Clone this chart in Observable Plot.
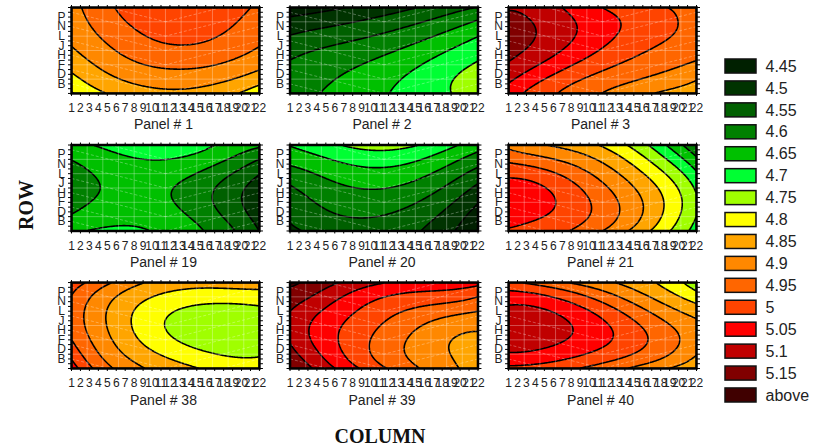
<!DOCTYPE html>
<html>
<head>
<meta charset="utf-8">
<script src="https://cdn.jsdelivr.net/npm/d3@7"></script>
<script src="https://cdn.jsdelivr.net/npm/@observablehq/plot@0.6"></script>
<style>
html,body{margin:0;padding:0;background:#fff;}
#wrap{position:relative;width:825px;height:445px;overflow:hidden;font-family:"Liberation Sans",sans-serif;}
#wrap svg{position:absolute;}
.axt{position:absolute;font-family:"Liberation Serif",serif;font-weight:bold;font-size:20px;color:#111;white-space:nowrap;}
</style>
</head>
<body>
<div id="wrap"></div>
<script>
// Levels and colours of the legend
const thresholds = [4.45,4.5,4.55,4.6,4.65,4.7,4.75,4.8,4.85,4.9,4.95,5,5.05,5.1,5.15];
const legendLabels = ["4.45","4.5","4.55","4.6","4.65","4.7","4.75","4.8","4.85","4.9","4.95","5","5.05","5.1","5.15","above"];
const colors = ["#002000","#003300","#006000","#008000","#00c000","#00ff33","#a0ff00","#ffff00","#ffa500","#ff8800","#ff6600","#ff4400","#ff0000","#c00000","#800000","#400000"];
// Axes
const columns = d3.range(1,23);
const rowLetters = {2:"B",4:"D",6:"F",8:"H",10:"J",12:"L",14:"N",16:"P"};
const rowTicks = [2,4,6,8,10,12,14,16];
const rowMinor = d3.range(0,19);
// Sample positions of the value tables
const sampleX = [1,4,7,10,13,16,19,22];
const sampleY = [18,15,12,9,6,3,0];
// Panel values: one line per row from top to bottom, one number per sampleX
const panel1 = [
[4.885,4.92,4.97,4.985,4.99,4.985,4.97,4.94],
[4.875,4.91,4.955,4.97,4.975,4.97,4.958,4.93],
[4.862,4.895,4.935,4.955,4.96,4.955,4.94,4.91],
[4.845,4.88,4.91,4.93,4.945,4.935,4.92,4.895],
[4.815,4.86,4.88,4.905,4.91,4.905,4.885,4.865],
[4.785,4.825,4.855,4.87,4.875,4.87,4.85,4.82],
[4.745,4.79,4.82,4.835,4.84,4.835,4.805,4.765]];
const panel2 = [
[4.42,4.43,4.45,4.47,4.48,4.5,4.535,4.55],
[4.465,4.475,4.495,4.505,4.53,4.55,4.58,4.605],
[4.505,4.52,4.535,4.557,4.565,4.59,4.615,4.65],
[4.53,4.55,4.565,4.582,4.6,4.62,4.66,4.68],
[4.56,4.575,4.585,4.61,4.625,4.655,4.68,4.705],
[4.575,4.59,4.605,4.63,4.64,4.675,4.695,4.725],
[4.585,4.595,4.62,4.64,4.645,4.685,4.695,4.74]];
const panel3 = [
[5.095,5.085,5.045,5.02,4.985,4.965,4.95,4.92],
[5.115,5.095,5.065,5.035,5.002,4.975,4.96,4.93],
[5.125,5.098,5.07,5.035,5.002,4.97,4.957,4.93],
[5.115,5.085,5.05,5.012,4.98,4.955,4.935,4.915],
[5.095,5.055,5.012,4.98,4.948,4.925,4.91,4.895],
[5.06,5.015,4.975,4.945,4.92,4.9,4.88,4.85],
[5.025,4.98,4.945,4.91,4.89,4.852,4.84,4.82]];
const panel19 = [
[4.635,4.655,4.67,4.685,4.675,4.655,4.635,4.61],
[4.6,4.625,4.64,4.65,4.645,4.625,4.595,4.55],
[4.585,4.602,4.625,4.63,4.612,4.59,4.548,4.5],
[4.575,4.595,4.615,4.615,4.59,4.565,4.525,4.475],
[4.585,4.602,4.62,4.615,4.59,4.56,4.52,4.47],
[4.605,4.625,4.64,4.63,4.612,4.58,4.53,4.48],
[4.64,4.655,4.66,4.648,4.625,4.602,4.552,4.5]];
const panel20 = [
[4.652,4.675,4.702,4.72,4.715,4.69,4.665,4.62],
[4.62,4.64,4.66,4.672,4.67,4.645,4.615,4.575],
[4.575,4.6,4.625,4.632,4.63,4.61,4.57,4.53],
[4.545,4.575,4.595,4.6,4.597,4.575,4.535,4.49],
[4.525,4.552,4.57,4.575,4.567,4.54,4.505,4.45],
[4.507,4.535,4.548,4.552,4.538,4.52,4.475,4.425],
[4.485,4.515,4.53,4.53,4.52,4.498,4.455,4.4]];
const panel21 = [
[4.885,4.865,4.83,4.815,4.77,4.72,4.635,4.56],
[4.94,4.915,4.895,4.86,4.815,4.76,4.69,4.61],
[4.985,4.975,4.945,4.9,4.86,4.805,4.742,4.655],
[5.02,5.015,4.975,4.93,4.885,4.835,4.765,4.695],
[5.03,5.025,4.985,4.96,4.905,4.855,4.78,4.705],
[5.015,5.012,4.975,4.952,4.9,4.852,4.775,4.7],
[4.995,4.985,4.955,4.925,4.87,4.825,4.745,4.68]];
const panel38 = [
[4.975,4.93,4.875,4.84,4.825,4.82,4.82,4.825],
[4.945,4.885,4.83,4.8,4.78,4.77,4.77,4.775],
[4.935,4.87,4.815,4.78,4.745,4.735,4.735,4.74],
[4.93,4.865,4.81,4.77,4.73,4.715,4.71,4.715],
[4.95,4.885,4.82,4.78,4.748,4.73,4.72,4.725],
[4.985,4.9,4.85,4.81,4.78,4.752,4.745,4.742],
[5.03,4.93,4.885,4.84,4.815,4.795,4.785,4.78]];
const panel39 = [
[5.16,5.135,5.09,5.06,5.05,5.03,5.02,5.02],
[5.125,5.1,5.04,5.01,4.995,4.985,4.97,4.95],
[5.1,5.055,5.015,4.985,4.955,4.935,4.91,4.9],
[5.09,5.04,4.997,4.965,4.93,4.895,4.875,4.865],
[5.095,5.04,4.985,4.952,4.91,4.875,4.858,4.83],
[5.12,5.055,5,4.957,4.912,4.87,4.852,4.82],
[5.15,5.09,5.03,4.985,4.93,4.89,4.865,4.825]];
const panel40 = [
[4.96,4.94,4.9,4.875,4.848,4.825,4.77,4.72],
[5.025,5.01,4.998,4.952,4.9,4.865,4.82,4.775],
[5.065,5.06,5.03,5.002,4.955,4.905,4.865,4.825],
[5.08,5.08,5.06,5.03,4.99,4.95,4.9,4.865],
[5.075,5.072,5.058,5.022,4.997,4.963,4.912,4.875],
[5.045,5.04,5.015,4.995,4.97,4.935,4.9,4.85],
[4.985,4.985,4.955,4.945,4.91,4.885,4.845,4.815]];
const panels = [
 {name:"Panel # 1", col:0,row:0,values:panel1},
 {name:"Panel # 2", col:1,row:0,values:panel2},
 {name:"Panel # 3", col:2,row:0,values:panel3},
 {name:"Panel # 19",col:0,row:1,values:panel19},
 {name:"Panel # 20",col:1,row:1,values:panel20},
 {name:"Panel # 21",col:2,row:1,values:panel21},
 {name:"Panel # 38",col:0,row:2,values:panel38},
 {name:"Panel # 39",col:1,row:2,values:panel39},
 {name:"Panel # 40",col:2,row:2,values:panel40}
];
// Wireframe of the surface
const wireX = d3.range(1,22.01,1.75);
const wireY = d3.range(0,18.01,3);
const wireCentre = 11.5;
const wireRise = 5;
const wireDiag = d3.range(-6,24,3).flatMap(y => [
  {x1:1,x2:wireCentre,y1:y+wireRise,y2:y},
  {x1:22,x2:wireCentre,y1:y+wireRise,y2:y}
]);

const points = panels.flatMap(p => p.values.flatMap((line,i) =>
  line.map((z,j) => ({x:sampleX[j],y:sampleY[i],z,col:p.col,row:p.row}))));

// Smooth surface through the table: a least-squares polynomial in x and y,
// handed to the contour mark as its spatial interpolation method.
const degX = 4, degY = 4;
function smoothSurface(index, w, h, X, Y, V) {
  const basis = (u, v) => {
    const out = [];
    for (let a = 0; a <= degX; ++a) for (let b = 0; b <= degY; ++b) out.push(Math.pow(u, a) * Math.pow(v, b));
    return out;
  };
  const n = (degX + 1) * (degY + 1);
  const A = d3.range(n).map(() => new Array(n + 1).fill(0));
  for (const i of index) {
    const f = basis(2 * X[i] / w - 1, 2 * Y[i] / h - 1);
    for (let r = 0; r < n; ++r) {
      for (let c = 0; c < n; ++c) A[r][c] += f[r] * f[c];
      A[r][n] += f[r] * V[i];
    }
  }
  for (let r = 0; r < n; ++r) {
    let p = r;
    for (let q = r + 1; q < n; ++q) if (Math.abs(A[q][r]) > Math.abs(A[p][r])) p = q;
    [A[r], A[p]] = [A[p], A[r]];
    for (let q = 0; q < n; ++q) {
      if (q === r) continue;
      const k = A[q][r] / A[r][r];
      for (let c = r; c <= n; ++c) A[q][c] -= k * A[r][c];
    }
  }
  const coef = A.map((line, r) => line[n] / line[r]);
  const out = new Float64Array(w * h);
  for (let j = 0; j < h; ++j) for (let i = 0; i < w; ++i) {
    const f = basis(2 * (i + 0.5) / w - 1, 2 * (j + 0.5) / h - 1);
    let s = 0;
    for (let k = 0; k < n; ++k) s += coef[k] * f[k];
    out[j * w + i] = s;
  }
  return out;
}

const contourLevels = [3.9, ...thresholds];

const chart = Plot.plot({
  width:825,height:445,
  marginLeft:71,marginRight:129,marginTop:7,marginBottom:77,
  style:{background:"transparent",fontFamily:"'Liberation Sans',sans-serif"},
  fx:{domain:[0,1,2],axis:null,paddingInner:0.14,paddingOuter:0,round:false},
  fy:{domain:[0,1,2],axis:null,paddingInner:0.375,paddingOuter:0,round:false},
  x:{domain:[1,22],label:null,axis:null},
  y:{domain:[0,18],label:null,axis:null},
  color:{type:"threshold",domain:thresholds,range:colors},
  marks:[
    Plot.contour(points,{x:"x",y:"y",fill:"z",fx:"col",fy:"row",interpolate:smoothSurface,
      thresholds:contourLevels,pixelSize:1,smooth:true,stroke:"#000",strokeWidth:1.6,clip:true}),
    Plot.ruleX(wireX,{stroke:"#fff",strokeOpacity:0.3,strokeWidth:1}),
    Plot.ruleY(wireY,{stroke:"#fff",strokeOpacity:0.3,strokeWidth:1}),
    Plot.link(wireDiag,{x1:"x1",x2:"x2",y1:"y1",y2:"y2",stroke:"#fff",strokeOpacity:0.3,strokeWidth:1,strokeDasharray:"3,2",clip:true}),
    Plot.axisX(columns,{anchor:"bottom",facetAnchor:null,tickSize:3,text:null,label:null,stroke:"#000"}),
    Plot.axisX(columns,{anchor:"top",facetAnchor:null,tickSize:3,text:null,label:null,stroke:"#000"}),
    Plot.axisY(rowMinor,{anchor:"left",facetAnchor:null,tickSize:3,text:null,label:null,stroke:"#000"}),
    Plot.axisY(rowMinor,{anchor:"right",facetAnchor:null,tickSize:3,text:null,label:null,stroke:"#000"}),
    Plot.frame({stroke:"#000",strokeWidth:2.5}),
    Plot.axisX(columns,{anchor:"bottom",facetAnchor:null,tickSize:0,tickPadding:10,label:null,fontSize:12,fill:"#222",tickFormat:d=>String(d)}),
    Plot.axisY(rowTicks,{anchor:"left",facetAnchor:null,tickSize:0,tickPadding:10,label:null,fontSize:12,fill:"#222",textAnchor:"middle",tickFormat:d=>rowLetters[d]}),
    Plot.text(panels,{fx:"col",fy:"row",text:"name",frameAnchor:"bottom",dy:36,dx:-2,fontSize:14,fill:"#222"})
  ]
});
chart.style.left="0";chart.style.top="0";
const wrap=document.getElementById("wrap");
wrap.appendChild(chart);

// Legend
const legend = Plot.plot({
  width:105,height:352,margin:0,
  style:{background:"transparent",fontFamily:"'Liberation Sans',sans-serif"},
  x:{domain:["swatch","label"],range:[5,67],axis:null,paddingInner:0,paddingOuter:0,round:false},
  y:{domain:legendLabels,range:[4,347],axis:null,paddingInner:0.36,paddingOuter:0,round:false},
  marks:[
    Plot.cell(legendLabels,{x:()=>"swatch",y:d=>d,fill:(d,i)=>colors[i],stroke:"#111",strokeWidth:1.5}),
    Plot.text(legendLabels,{x:()=>"label",y:d=>d,text:d=>d,textAnchor:"start",dx:-6.5,fontSize:16,fill:"#222"})
  ]
});
legend.style.left="720px";legend.style.top="55px";
wrap.appendChild(legend);

// Axis titles
const row=document.createElement("div");row.className="axt";row.textContent="ROW";
row.style.cssText="left:26px;top:205px;transform:translate(-50%,-50%) rotate(-90deg);";
wrap.appendChild(row);
const col=document.createElement("div");col.className="axt";col.textContent="COLUMN";
col.style.cssText="left:380px;top:436px;transform:translate(-50%,-50%);";
wrap.appendChild(col);
</script>
</body>
</html>
